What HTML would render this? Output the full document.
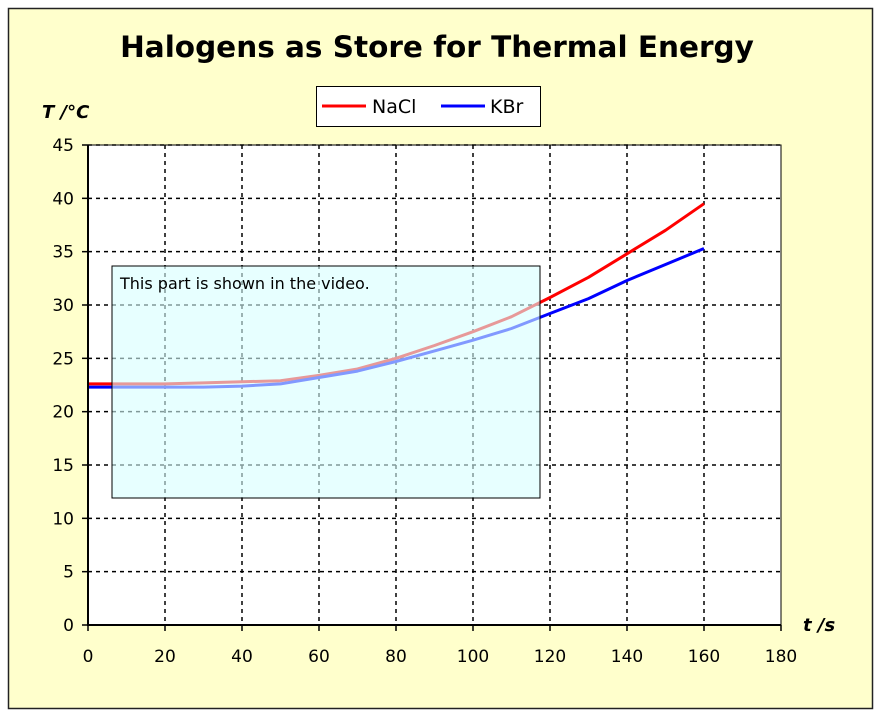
<!DOCTYPE html>
<html><head><meta charset="utf-8"><style>
body{margin:0;background:#fff;}
svg{display:block;font-family:"DejaVu Sans","Liberation Sans",sans-serif;}
</style></head><body>
<svg id="chart" width="881" height="716">
<rect x="0" y="0" width="881" height="716" fill="#fff"/>
<rect x="8.5" y="8.5" width="864" height="700" fill="#ffffcc" stroke="#222" stroke-width="1.5"/>
<text x="437" y="57" text-anchor="middle" font-size="29.5" font-weight="bold" fill="#000">Halogens as Store for Thermal Energy</text>
<rect x="88" y="145" width="693" height="480" fill="#fff"/>
<g id="grid"></g>
<g id="series"></g>
<rect x="112" y="266" width="428" height="232" fill="rgba(215,255,255,0.6)" stroke="#000" stroke-width="1"/>
<text x="120" y="289" font-size="16" fill="#000">This part is shown in the video.</text>
<g id="axes"></g>
<text x="42" y="118" font-size="18" font-weight="bold" font-style="italic">T /°C</text>
<text x="803" y="631" font-size="18" font-weight="bold" font-style="italic">t /s</text>
<g>
<rect x="316.5" y="86.5" width="224" height="40" fill="#fff" stroke="#000" stroke-width="1"/>
<line x1="322" y1="106" x2="366" y2="106" stroke="#f00" stroke-width="3"/>
<text x="372" y="113" font-size="19">NaCl</text>
<line x1="441" y1="106" x2="485" y2="106" stroke="#00f" stroke-width="3"/>
<text x="490" y="113" font-size="19">KBr</text>
</g>
</svg>
<script>
const times=[0,10,20,30,40,50,60,70,80,90,100,110,120,130,140,150,160];
const nacl=[22.6,22.6,22.6,22.7,22.8,22.9,23.4,24.0,25.0,26.2,27.5,28.9,30.7,32.6,34.8,37.0,39.5];
const kbr=[22.3,22.3,22.3,22.3,22.4,22.6,23.2,23.8,24.7,25.7,26.7,27.8,29.2,30.6,32.3,33.8,35.3];
const xTicks=[0,20,40,60,80,100,120,140,160,180];
const yTicks=[0,5,10,15,20,25,30,35,40,45];
const X0=88,X1=781,Y0=625,Y1=145;
function sx(v){return X0+(v-0)/(180-0)*(X1-X0);}
function sy(v){return Y0-(v-0)/(45-0)*(Y0-Y1);}
const NS="http://www.w3.org/2000/svg";
function mk(t,a,p){const e=document.createElementNS(NS,t);for(const k in a)e.setAttribute(k,a[k]);p.appendChild(e);return e;}
const grid=document.getElementById('grid'),axes=document.getElementById('axes'),series=document.getElementById('series');
xTicks.forEach(v=>{
 if(v>0&&v<180){const l=mk('line',{x1:sx(v),x2:sx(v),y1:Y1,y2:Y0,stroke:'#000','stroke-width':1.5,'stroke-dasharray':'4,4'},grid);
 
 }
 const tk=mk('line',{x1:sx(v),x2:sx(v),y1:Y0,y2:Y0+6,stroke:'#000','stroke-width':1.5},axes);
 
 
 const t=mk('text',{x:sx(v),y:Y0+37,'text-anchor':'middle','font-size':17},axes);
 t.textContent=v;
 
 
});
yTicks.forEach(v=>{
 if(v>0){const l=mk('line',{x1:X0,x2:X1,y1:sy(v),y2:sy(v),stroke:'#000','stroke-width':1.5,'stroke-dasharray':'4,4'},grid);
 
 }
 const tk=mk('line',{x1:X0-6,x2:X0,y1:sy(v),y2:sy(v),stroke:'#000','stroke-width':1.5},axes);
 
 
 const t=mk('text',{x:X0-14,y:sy(v)+6,'text-anchor':'end','font-size':17},axes);
 t.textContent=v;
 
 
});
const ax=mk('path',{d:`M${X0},${Y1}V${Y0}H${X1}`,fill:'none',stroke:'#000','stroke-width':2},axes);


const rb=mk('path',{d:`M${X0},${Y1}H${X1}V${Y0}`,fill:'none',stroke:'#000','stroke-width':1},axes);


function line(vals,col,name){
 const d=vals.map((v,i)=>(i?'L':'M')+sx(times[i]).toFixed(1)+','+sy(v).toFixed(1)).join('');
 const p=mk('path',{d:d,fill:'none',stroke:col,'stroke-width':3,'stroke-linejoin':'round'},series);
 
 
}
line(nacl,'#f00','nacl-line');
line(kbr,'#00f','kbr-line');
</script>
</body></html>
